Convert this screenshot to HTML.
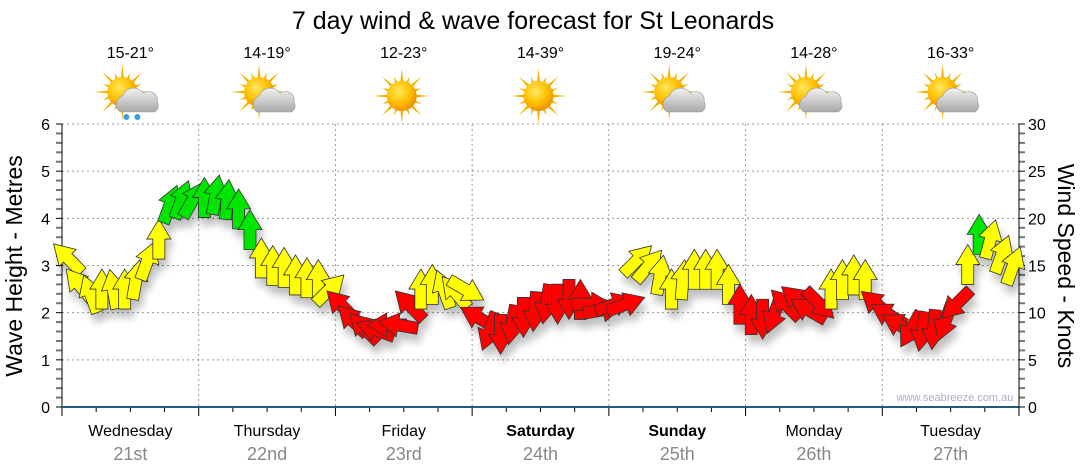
<!DOCTYPE html>
<html><head><meta charset="utf-8"><style>
html,body{margin:0;padding:0;background:#fff;}
svg{display:block;font-family:"Liberation Sans",sans-serif;}
</style></head><body>
<svg id="chart" width="1080" height="475" viewBox="0 0 1080 475">
<defs>
<filter id="sh" x="-50%" y="-50%" width="200%" height="200%"><feGaussianBlur in="SourceAlpha" stdDeviation="4"/><feOffset dx="3" dy="8"/><feComponentTransfer><feFuncA type="linear" slope="0.25"/></feComponentTransfer><feMerge><feMergeNode/><feMergeNode in="SourceGraphic"/></feMerge></filter>
<radialGradient id="sunG" cx="40%" cy="35%" r="65%"><stop offset="0" stop-color="#ffe860"/><stop offset="0.6" stop-color="#ffc000"/><stop offset="1" stop-color="#f09000"/></radialGradient>
<linearGradient id="cloudG" x1="0" y1="0" x2="0" y2="1"><stop offset="0" stop-color="#f2f2f2"/><stop offset="1" stop-color="#a8a8a8"/></linearGradient>
</defs>
<text x="533" y="29" text-anchor="middle" font-size="25">7 day wind &amp; wave forecast for St Leonards</text>
<g id="grid"></g><g id="axes"></g><g id="icons"></g><g id="arrows" filter="url(#sh)"></g>
<text x="955" y="401" text-anchor="middle" font-size="11" fill="#a8b0c0">www.seabreeze.com.au</text>
<text transform="translate(22,266) rotate(-90)" text-anchor="middle" font-size="23">Wave Height - Metres</text>
<text transform="translate(1058,266) rotate(90)" text-anchor="middle" font-size="23">Wind Speed - Knots</text>
</svg>
<script>
const days = ["Wednesday","Thursday","Friday","Saturday","Sunday","Monday","Tuesday"];
const dates = ["21st","22nd","23rd","24th","25th","26th","27th"];
const boldDays = [false,false,false,true,true,false,false];
const temps = ["15-21°","14-19°","12-23°","14-39°","19-24°","14-28°","16-33°"];
const icons = ["rain","cloud","sun","sun","cloud","cloud","cloud"];
const leftTicks = [0,1,2,3,4,5,6];
const rightTicks = [0,5,10,15,20,25,30];
const windSpeed = [
15.8,13,12,12.5,12.5,12.5,13.5,15.5,17.8,21.5,22,22,
22.2,22.5,22,21,18.8,15.8,15,14.8,14,13.7,13.5,12.5,
10.8,9.2,8.4,8.2,8.7,8.7,10.8,12.5,13,12.5,12.2,12.4,
9.5,8,7.7,8.7,9.5,10.1,10.9,10.9,11.4,11.4,10.9,10.3,
10.9,10.9,15.6,15,14,12.5,13.5,14.6,14.6,14.6,13,10.9,
9.8,9.3,9.8,10.9,11.4,10.3,10.9,12.5,13.5,14,13.5,10.9,
9.8,8.7,8.2,8,8.2,9,10.9,15.1,18.3,17.8,16.2,15];
const windDir = [
315,320,340,0,350,0,10,20,0,20,20,30,
0,10,5,0,0,0,0,0,0,0,0,45,
315,315,315,290,270,280,315,0,0,340,320,120,
300,200,180,190,180,185,190,180,180,0,90,80,
70,70,45,40,10,0,5,0,0,0,0,0,
0,180,200,315,310,300,135,0,0,0,0,310,
300,300,210,190,185,200,225,0,0,15,20,20];
const NS="http://www.w3.org/2000/svg";
const X0=62, X1=1019, YT=124, YB=407, DAYW=(X1-X0)/7;
const yWave=v=>YB-(v/6)*(YB-YT);
const yWind=v=>YB-(v/30)*(YB-YT);
const xHour=h=>X0+h/24*DAYW;
function el(tag,attrs,parent){const e=document.createElementNS(NS,tag);for(const k in attrs)e.setAttribute(k,attrs[k]);parent.appendChild(e);return e;}
const grid=document.getElementById('grid'), axes=document.getElementById('axes');
leftTicks.forEach((t,i)=>{
  if(t>0){const g=el('line',{x1:X0,x2:X1,y1:yWave(t),y2:yWave(t),stroke:'#999','stroke-dasharray':'2,3'},grid);
  
  }
  const tx=el('text',{x:50,y:yWave(t)+6,'text-anchor':'end','font-size':16},axes);tx.textContent=t;
  
  
});
rightTicks.forEach(t=>{
  const tx=el('text',{x:1028,y:yWind(t)+6,'font-size':16},axes);tx.textContent=t;
  
  
});
for(let k=0;k<=30;k++){
  const y=YB-k*(YB-YT)/30, major=k%5==0;
  el('line',{x1:X0-6,x2:X0,y1:y,y2:y,stroke:major?'#000':'#777','stroke-width':major?1:2},axes);
  el('line',{x1:X1,x2:X1+6,y1:y,y2:y,stroke:major?'#000':'#777','stroke-width':major?1:2},axes);
}
el('line',{x1:X0,x2:X0,y1:YT,y2:YB,stroke:'#000'},axes);
el('line',{x1:X1,x2:X1,y1:YT,y2:YB,stroke:'#000'},axes);
for(let d=0;d<7;d++){
  const xd=X0+d*DAYW;
  if(d>0){const g=el('line',{x1:xd,x2:xd,y1:YT,y2:YB,stroke:'#999','stroke-dasharray':'2,3'},grid);
  
  }
  for(let q=0;q<4;q++){const x=xd+q*DAYW/4;el('line',{x1:x,x2:x,y1:YB,y2:YB+(q==0?9:5),stroke:'#000'},axes);}
  const cx=xd+DAYW/2;
  const dn=el('text',{x:cx,y:436,'text-anchor':'middle','font-size':16,'font-weight':boldDays[d]?'bold':'normal'},axes);dn.textContent=days[d];
  
  
  const dt=el('text',{x:cx,y:460,'text-anchor':'middle','font-size':18,fill:'#888'},axes);dt.textContent=dates[d];
  
  
  const tp=el('text',{x:cx,y:58,'text-anchor':'middle','font-size':16},axes);tp.textContent=temps[d];
  
  
  const g=el('g',{transform:`translate(${cx-2},96)`},document.getElementById('icons'));
  
  
  const sx=icons[d]=='sun'?0:-6, sy=icons[d]=='sun'?0:-4;
  for(let r=0;r<16;r++){const a=r*Math.PI/8, L=r%2?21:28;
    el('polygon',{points:`${sx+Math.cos(a-0.12)*13},${sy+Math.sin(a-0.12)*13} ${sx+Math.cos(a)*L},${sy+Math.sin(a)*L} ${sx+Math.cos(a+0.12)*13},${sy+Math.sin(a+0.12)*13}`,fill:'#f5b000'},g);}
  el('circle',{cx:sx,cy:sy,r:15,fill:'url(#sunG)'},g);
  if(icons[d]!='sun'){
    el('path',{d:'M-8,16 a9,9 0 0 1 2,-16 a12,12 0 0 1 21,-3 a9,9 0 0 1 14,9 a7,7 0 0 1 -3,10 z',fill:'url(#cloudG)',stroke:'#999','stroke-width':0.6},g);
  }
  if(icons[d]=='rain'){el('circle',{cx:-2,cy:21,r:3,fill:'#3a9ee0'},g);el('circle',{cx:9,cy:21,r:3,fill:'#3a9ee0'},g);}
}
el('line',{x1:X0,x2:X1,y1:YB,y2:YB,stroke:'#1f5a80','stroke-width':2},axes);
el('line',{x1:X1,x2:X1,y1:YB,y2:YB+9,stroke:'#000'},axes);
const ag=document.getElementById('arrows');
const shape="M-6,20 L6,20 L6,0 L12,0 L0,-20 L-12,0 L-6,0 Z";
windSpeed.forEach((s,i)=>{
  const x=xHour(1+2*i), y=yWind(s);
  const col=s>=18?'#00e600':(s>=12?'#ffff00':'#ff0000');
  const p=el('path',{d:shape,fill:col,stroke:'#333','stroke-width':0.8,transform:`translate(${x},${y}) rotate(${windDir[i]})`},ag);
  
  
});
</script>
</body></html>
